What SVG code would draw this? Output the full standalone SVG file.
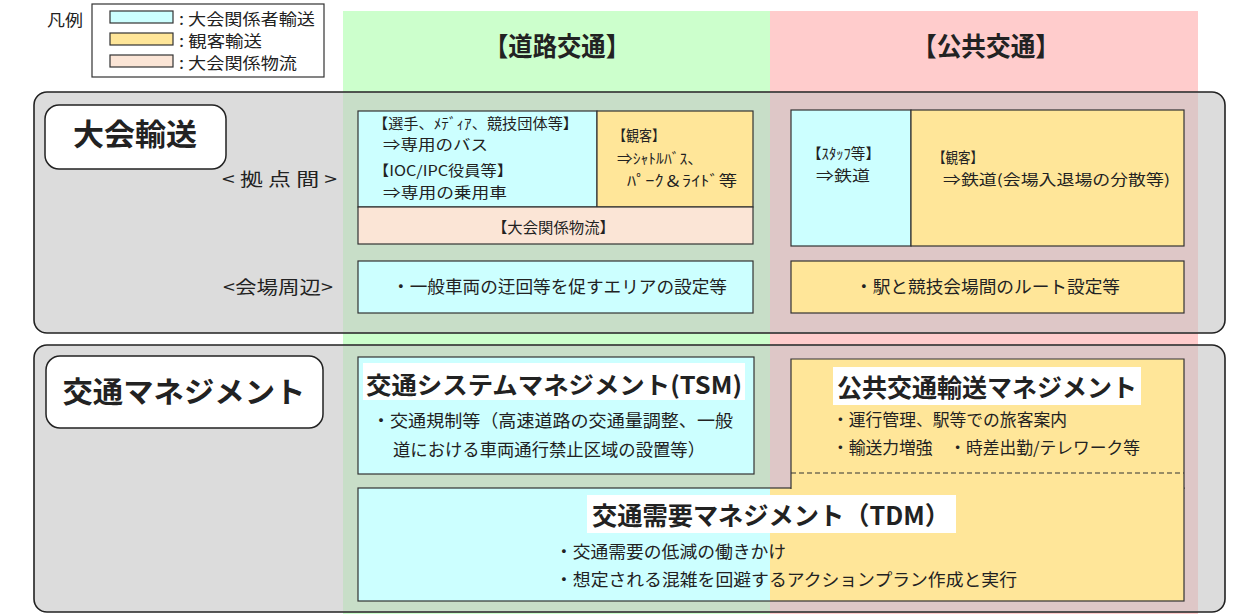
<svg xmlns="http://www.w3.org/2000/svg" width="1234" height="614" viewBox="0 0 1234 614">
<style>
text{font-family:"Noto Sans CJK JP","Noto Sans",sans-serif;fill:#222;dominant-baseline:central}
.b{font-weight:700}
.box{stroke:#333;stroke-width:1.2}
.panel{fill:none;stroke:#222;stroke-width:1.6}
.cy{fill:#ccffff}.ye{fill:#ffe699}.pe{fill:#fbe5d6}
.lbl{fill:#fff;stroke:#222;stroke-width:1.5}
</style>
<rect width="1234" height="614" fill="#fff"/>
<g id="legend">
<text x="47" y="19" font-size="16" textLength="36" lengthAdjust="spacingAndGlyphs">凡例</text>
<rect x="92" y="4" width="232" height="73" fill="#fff" stroke="#333" stroke-width="1.2"/>
<rect class="box cy" x="110" y="11" width="63" height="12"/>
<rect class="box ye" x="110" y="33" width="63" height="12"/>
<rect class="box pe" x="110" y="55" width="63" height="12"/>
<text x="179" y="18" font-size="16" textLength="136" lengthAdjust="spacingAndGlyphs">: 大会関係者輸送</text>
<text x="179" y="40" font-size="16" textLength="83" lengthAdjust="spacingAndGlyphs">: 観客輸送</text>
<text x="179" y="62" font-size="16" textLength="118" lengthAdjust="spacingAndGlyphs">: 大会関係物流</text>
</g>
<g id="columns">
<rect x="343" y="11" width="427" height="603" fill="#ccffcc"/>
<rect x="770" y="11" width="428" height="603" fill="#ffcccc"/>
<text class="b" x="557" y="44" font-size="26" text-anchor="middle" textLength="146" lengthAdjust="spacingAndGlyphs">【道路交通】</text>
<text class="b" x="986" y="44" font-size="26" text-anchor="middle" textLength="148" lengthAdjust="spacingAndGlyphs">【公共交通】</text>
</g>
<g id="panel-taikai">
<rect x="34" y="92" width="1191" height="241" rx="13" fill="#dcdcdc"/>
<rect x="343" y="93" width="427" height="239" fill="#c8dec8"/>
<rect x="770" y="93" width="428" height="239" fill="#dec7c7"/>
<rect class="panel" x="34" y="92" width="1191" height="241" rx="13"/>
<rect class="lbl" x="45" y="105" width="181" height="64" rx="14"/>
<text class="b" x="135" y="132" font-size="30" text-anchor="middle" textLength="124" lengthAdjust="spacingAndGlyphs">大会輸送</text>
<text x="222" y="178" font-size="18" textLength="115" lengthAdjust="spacingAndGlyphs">&lt; 拠 点 間 &gt;</text>
<text x="223" y="286" font-size="18" textLength="110" lengthAdjust="spacingAndGlyphs">&lt;会場周辺&gt;</text>
</g>
<g id="road-staff">
<rect class="box cy" x="358" y="111" width="239" height="96"/>
<text x="373" y="122" font-size="14.5" textLength="205" lengthAdjust="spacingAndGlyphs">【選手、ﾒﾃﾞｨｱ、競技団体等】</text>
<text x="383" y="143" font-size="14.5" textLength="105" lengthAdjust="spacingAndGlyphs">⇒専用のバス</text>
<text x="373" y="169" font-size="14.5" textLength="140" lengthAdjust="spacingAndGlyphs">【IOC/IPC役員等】</text>
<text x="383" y="191" font-size="14.5" textLength="124" lengthAdjust="spacingAndGlyphs">⇒専用の乗用車</text>
</g>
<g id="road-spectator">
<rect class="box ye" x="597" y="111" width="156" height="96"/>
<text x="613" y="134" font-size="14.5" textLength="52" lengthAdjust="spacingAndGlyphs">【観客】</text>
<text x="617" y="157" font-size="14.5" textLength="86" lengthAdjust="spacingAndGlyphs">⇒ｼｬﾄﾙﾊﾞｽ、</text>
<text x="627" y="179" font-size="14.5" textLength="110" lengthAdjust="spacingAndGlyphs">ﾊﾟｰｸ＆ﾗｲﾄﾞ等</text>
</g>
<g id="road-logistics">
<rect class="box pe" x="358" y="207" width="395" height="37"/>
<text x="492" y="226" font-size="15" textLength="123" lengthAdjust="spacingAndGlyphs">【大会関係物流】</text>
</g>
<g id="public-staff">
<rect class="box cy" x="791" y="110" width="120" height="136"/>
<text x="807" y="152" font-size="14.5" textLength="73" lengthAdjust="spacingAndGlyphs">【ｽﾀｯﾌ等】</text>
<text x="816" y="174" font-size="14.5" textLength="54" lengthAdjust="spacingAndGlyphs">⇒鉄道</text>
</g>
<g id="public-spectator">
<rect class="box ye" x="911" y="110" width="273" height="136"/>
<text x="933" y="156" font-size="14.5" textLength="50" lengthAdjust="spacingAndGlyphs">【観客】</text>
<text x="943" y="178" font-size="14.5" textLength="227" lengthAdjust="spacingAndGlyphs">⇒鉄道(会場入退場の分散等)</text>
</g>
<g id="road-venue">
<rect class="box cy" x="358" y="261" width="395" height="52"/>
<text x="392" y="285" font-size="17.5" textLength="335" lengthAdjust="spacingAndGlyphs">・一般車両の迂回等を促すエリアの設定等</text>
</g>
<g id="public-venue">
<rect class="box ye" x="791" y="261" width="393" height="52"/>
<text x="855" y="285" font-size="17.5" textLength="265" lengthAdjust="spacingAndGlyphs">・駅と競技会場間のルート設定等</text>
</g>
<g id="panel-management">
<rect x="34" y="345" width="1191" height="267" rx="13" fill="#dcdcdc"/>
<rect x="343" y="346" width="427" height="265" fill="#c8dec8"/>
<rect x="770" y="346" width="428" height="265" fill="#dec7c7"/>
<rect class="panel" x="34" y="345" width="1191" height="267" rx="13"/>
<rect class="lbl" x="46" y="356" width="277" height="72" rx="14"/>
<text class="b" x="184" y="390" font-size="29" text-anchor="middle" textLength="243" lengthAdjust="spacingAndGlyphs">交通マネジメント</text>
</g>
<g id="tsm">
<rect class="box cy" x="358" y="357" width="396" height="117"/>
<rect x="363" y="363" width="382" height="37" fill="#fff"/>
<text class="b" x="554" y="383" font-size="24" text-anchor="middle" textLength="376" lengthAdjust="spacingAndGlyphs">交通システムマネジメント(TSM)</text>
<text x="372" y="419" font-size="17.5" textLength="361" lengthAdjust="spacingAndGlyphs">・交通規制等（高速道路の交通量調整、一般</text>
<text x="393" y="448" font-size="17.5" textLength="312" lengthAdjust="spacingAndGlyphs">道における車両通行禁止区域の設置等）</text>
</g>
<g id="tdm">
<rect x="358" y="488" width="412" height="113" class="cy"/>
<rect x="770" y="488" width="414" height="113" class="ye"/>
<rect x="358" y="488" width="826" height="113" fill="none" class="box"/>
</g>
<g id="public-management">
<rect x="791" y="359" width="393" height="130" class="ye"/>
<path d="M791 489V359H1184V489" fill="none" class="box"/>
<rect x="833" y="367" width="308" height="38" fill="#fff"/>
<text class="b" x="987" y="386" font-size="25" text-anchor="middle" textLength="300" lengthAdjust="spacingAndGlyphs">公共交通輸送マネジメント</text>
<text x="832" y="419" font-size="16.5" textLength="235" lengthAdjust="spacingAndGlyphs">・運行管理、駅等での旅客案内</text>
<text x="832" y="447" font-size="16.5" textLength="308" lengthAdjust="spacingAndGlyphs">・輸送力増強　・時差出勤/テレワーク等</text>
</g>
<g id="connectors">
<line x1="791" y1="473" x2="1184" y2="473" stroke="#333" stroke-width="1.2" stroke-dasharray="5 3"/>
</g>
<g id="tdm-text">
<rect x="587" y="495" width="369" height="38" fill="#fff"/>
<text class="b" x="771" y="514" font-size="25" text-anchor="middle" textLength="358" lengthAdjust="spacingAndGlyphs">交通需要マネジメント（TDM）</text>
<text x="555" y="550" font-size="17.5" textLength="231" lengthAdjust="spacingAndGlyphs">・交通需要の低減の働きかけ</text>
<text x="555" y="578" font-size="17.5" textLength="462" lengthAdjust="spacingAndGlyphs">・想定される混雑を回避するアクションプラン作成と実行</text>
</g>
</svg>
